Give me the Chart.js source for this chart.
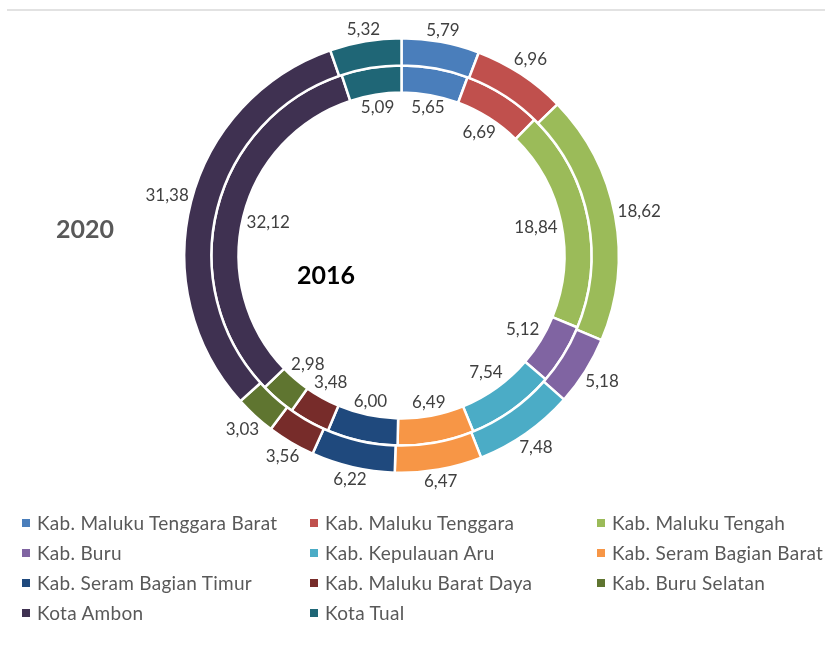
<!DOCTYPE html>
<html>
<head>
<meta charset="utf-8">
<script src="https://cdn.jsdelivr.net/npm/chart.js@4"></script>
<style>
  body { margin: 0; background: #fff; font-family: Lato, sans-serif; }
  #wrap { position: relative; width: 825px; height: 649px; overflow: hidden; }
  #topLine { position: absolute; left: 7px; top: 9px; width: 818px; height: 2px; background: #e2e2e2; }
  #chartBox { position: absolute; left: 0; top: 0; width: 825px; height: 500px; }
  .year { position: absolute; font-weight: bold; font-size: 25px; line-height: 30px; }
  #y2020 { left: 56px; top: 213px; color: #595959; }
  #y2016 { left: 297px; top: 259px; color: #000; }
  #legend { position: absolute; left: 0; top: 0; width: 825px; height: 649px; pointer-events: none; }
  .item { position: absolute; font-size: 19px; letter-spacing: 0.3px; color: #595959; line-height: 22px; white-space: nowrap; }
  .item i { display: inline-block; width: 8px; height: 8px; margin-right: 7px; vertical-align: 3px; }
</style>
</head>
<body>
<div id="wrap">
  <div id="topLine"></div>
  <div id="chartBox"><canvas id="ring"></canvas></div>
  <div class="year" id="y2020">2020</div>
  <div class="year" id="y2016">2016</div>
  <div id="legend"></div>
</div>
<script>
// Data (percent share per region)
const regions = [
  'Kab. Maluku Tenggara Barat', 'Kab. Maluku Tenggara', 'Kab. Maluku Tengah',
  'Kab. Buru', 'Kab. Kepulauan Aru', 'Kab. Seram Bagian Barat',
  'Kab. Seram Bagian Timur', 'Kab. Maluku Barat Daya', 'Kab. Buru Selatan',
  'Kota Ambon', 'Kota Tual'
];
const values2020 = [5.79, 6.96, 18.62, 5.18, 7.48, 6.47, 6.22, 3.56, 3.03, 31.38, 5.32];
const values2016 = [5.65, 6.69, 18.84, 5.12, 7.54, 6.49, 6.00, 3.48, 2.98, 32.12, 5.09];
const colors = [
  '#4a7ebb', '#c0504d', '#9bbb59', '#8064a2', '#4bacc6', '#f79646',
  '#1f497d', '#772c2a', '#5f7530', '#3f3151', '#1f6676'
];

function fmt(v) {
  return v.toFixed(2).replace('.', ',');
}

// ============ Value labels ============
const ringLabels = {
  id: 'ringLabels',
  afterDatasetsDraw(chart) {
    const ctx = chart.ctx;
    ctx.save();
    ctx.font = '17px Lato';
    ctx.fillStyle = '#404040';
    ctx.textAlign = 'center';
    ctx.textBaseline = 'middle';
    chart.data.datasets.forEach((ds, di) => {
      const meta = chart.getDatasetMeta(di);
      meta.data.forEach((arc, i) => {
        const p = arc.getProps(['x', 'y', 'startAngle', 'endAngle', 'innerRadius', 'outerRadius'], true);
        const a = (p.startAngle + p.endAngle) / 2;
        const text = fmt(ds.data[i]);
        const w = ctx.measureText(text).width;
        const ext = Math.abs(Math.cos(a)) * w / 2 + Math.abs(Math.sin(a)) * 7;
        // outer ring: outside end, inner ring: inside end
        const r = di === 0 ? p.outerRadius + 2 + ext : p.innerRadius - 3 - ext;
        ctx.fillText(text, p.x + r * Math.cos(a), p.y + r * Math.sin(a));
      });
    });
    ctx.restore();
  }
};

// ============ Chart ============
new Chart(document.getElementById('ring'), {
  type: 'doughnut',
  data: {
    labels: regions,
    datasets: [
      { label: '2020', data: values2020, backgroundColor: colors, borderColor: '#fff', borderWidth: 2.5, hoverOffset: 0 },
      { label: '2016', data: values2016, backgroundColor: colors, borderColor: '#fff', borderWidth: 2.5, hoverOffset: 0 }
    ]
  },
  options: {
    responsive: true,
    maintainAspectRatio: false,
    animation: false,
    cutout: '75%',
    layout: { padding: { top: 37, bottom: 26, left: 0, right: 22 } },
    plugins: {
      legend: { display: false },
      tooltip: { enabled: false }
    }
  },
  plugins: [ringLabels]
});

// ============ Legend (3 columns) ============
const legend = document.getElementById('legend');
const colX = [22, 310, 597];
regions.forEach((name, i) => {
  const el = document.createElement('div');
  el.className = 'item';
  el.style.left = colX[i % 3] + 'px';
  el.style.top = (512 + Math.floor(i / 3) * 30) + 'px';
  el.innerHTML = '<i style="background:' + colors[i] + '"></i>' + name;
  legend.appendChild(el);
});
</script>
</body>
</html>
